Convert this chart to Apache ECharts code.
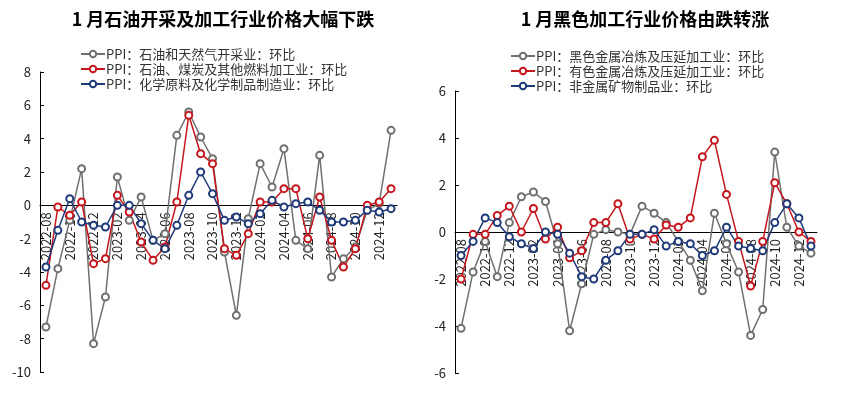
<!DOCTYPE html>
<html>
<head>
<meta charset="utf-8">
<script src="https://cdn.jsdelivr.net/npm/echarts@6/dist/echarts.min.js"></script>
<style>
  html, body { margin: 0; padding: 0; background: #fff; }
  #main { width: 862px; height: 397px; }
</style>
</head>
<body>
<div id="main"></div>
<script>
// 月份
var months = ['2022-08','2022-09','2022-10','2022-11','2022-12','2023-01','2023-02','2023-03','2023-04','2023-05',
  '2023-06','2023-07','2023-08','2023-09','2023-10','2023-11','2023-12','2024-01','2024-02','2024-03',
  '2024-04','2024-05','2024-06','2024-07','2024-08','2024-09','2024-10','2024-11','2024-12','2025-01'];

// 左图：石油开采及加工
var oilGas = [-7.3,-3.8,-0.9,2.2,-8.3,-5.5,1.7,-0.9,0.5,-2.1,-1.7,4.2,5.6,4.1,2.8,-2.8,-6.6,-0.8,2.5,1.1,3.4,-2.1,-2.6,3.0,-4.3,-3.2,-2.5,-0.3,0.1,4.5];
var oilCoal = [-4.8,-0.1,-0.6,0.2,-3.5,-3.2,0.6,-0.4,-2.2,-3.3,-2.5,0.2,5.4,3.1,2.5,-2.6,-3.0,-1.7,0.2,0.2,1.0,1.0,-2.0,0.5,-2.1,-3.7,-2.6,0.0,0.2,1.0];
var chemical = [-3.7,-1.5,0.4,-1.0,-1.2,-1.3,0.0,0.0,-1.1,-2.1,-2.6,-1.2,0.6,2.0,0.7,-0.9,-0.7,-1.1,-0.5,0.3,-0.1,0.1,0.2,-0.3,-1.0,-1.0,-0.9,-0.3,-0.4,-0.2];

// 右图：黑色加工
var ferrous = [-4.1,-1.7,-0.4,-1.9,0.4,1.5,1.7,1.3,-0.5,-4.2,-2.2,-0.1,0.1,0.0,-0.1,1.1,0.8,0.4,-0.4,-1.2,-2.5,0.8,-0.5,-1.7,-4.4,-3.3,3.4,0.2,-0.6,-0.9];
var nonferrous = [-2.0,-0.1,-0.1,0.7,1.1,0.0,1.0,-0.3,0.2,-1.1,-0.8,0.4,0.4,1.2,-0.3,-0.1,-0.3,0.3,0.2,0.6,3.2,3.9,1.6,-0.4,-2.3,-0.4,2.1,1.2,0.0,-0.4];
var nonMetal = [-1.0,-0.4,0.6,0.4,-0.2,-0.5,-0.7,0.0,-0.1,-0.9,-1.9,-2.0,-1.2,-0.8,-0.1,-0.1,0.1,-0.6,-0.4,-0.5,-1.0,-0.8,0.2,-0.6,-0.7,-0.8,0.4,1.2,0.6,-0.6];

var leftNames = ['PPI：石油和天然气开采业：环比', 'PPI：石油、煤炭及其他燃料加工业：环比', 'PPI：化学原料及化学制品制造业：环比'];
var rightNames = ['PPI：黑色金属冶炼及压延加工业：环比', 'PPI：有色金属冶炼及压延加工业：环比', 'PPI：非金属矿物制品业：环比'];

var GREY = '#707070', RED = '#c4161c', BLUE = '#1f3a78';
var FONT = '"Noto Sans CJK SC", "Noto Sans", sans-serif';

var grids = [
  { left: 40, top: 72, width: 357, height: 300 },
  { left: 455, top: 91, width: 362, height: 282 }
];
var yRange = [[-10, 8], [-6, 6]];

// x轴放在 0 刻度处（标签随轴线一起）
function xAxisOf(idx) {
  var r = yRange[idx];
  var up = grids[idx].height * (0 - r[0]) / (r[1] - r[0]);
  return {
    type: 'category', gridIndex: idx, data: months, boundaryGap: true,
    position: 'bottom', offset: -up,
    axisLine: { onZero: false, lineStyle: { color: '#000', width: 1 } },
    axisTick: { inside: true, interval: 1, length: 4, lineStyle: { color: '#000' } },
    axisLabel: { interval: 1, rotate: 90, margin: 7, fontSize: 13, color: '#222', fontFamily: FONT },
    splitLine: { show: false }
  };
}
function yAxisOf(idx) {
  return {
    type: 'value', gridIndex: idx, min: yRange[idx][0], max: yRange[idx][1], interval: 2,
    axisLine: { show: true, lineStyle: { color: '#000', width: 1 } },
    axisTick: { show: true, inside: true, length: 4, lineStyle: { color: '#000' } },
    axisLabel: { fontSize: 13, color: '#222', margin: 9, fontFamily: FONT },
    splitLine: { show: false }
  };
}
function lineOf(name, data, color, idx) {
  return {
    name: name, type: 'line', data: data,
    xAxisIndex: idx, yAxisIndex: idx,
    symbol: 'emptyCircle', symbolSize: 7,
    itemStyle: { color: color, borderWidth: 1.3 },
    lineStyle: { color: color, width: 1.5 },
    animation: false
  };
}

var chart = echarts.init(document.getElementById('main'));
chart.setOption({
  backgroundColor: '#fff',
  textStyle: { fontFamily: FONT },
  title: [
    { text: '1 月石油开采及加工行业价格大幅下跌', left: 218, top: 5, textAlign: 'center',
      textStyle: { fontSize: 18, fontWeight: 'bold', color: '#000', fontFamily: FONT } },
    { text: '1 月黑色加工行业价格由跌转涨', left: 640, top: 5, textAlign: 'center',
      textStyle: { fontSize: 18, fontWeight: 'bold', color: '#000', fontFamily: FONT } }
  ],
  legend: [
    { data: leftNames, orient: 'vertical', left: 75, top: 42, itemGap: 1, itemWidth: 24, itemHeight: 8,
      textStyle: { fontSize: 13, lineHeight: 14, color: '#333', padding: [0, 0, 0, -4] } },
    { data: rightNames, orient: 'vertical', left: 505, top: 44, itemGap: 1, itemWidth: 24, itemHeight: 8,
      textStyle: { fontSize: 13, lineHeight: 14, color: '#333', padding: [0, 0, 0, -4] } }
  ],
  grid: grids,
  xAxis: [xAxisOf(0), xAxisOf(1)],
  yAxis: [yAxisOf(0), yAxisOf(1)],
  series: [
    lineOf(leftNames[0], oilGas, GREY, 0),
    lineOf(leftNames[1], oilCoal, RED, 0),
    lineOf(leftNames[2], chemical, BLUE, 0),
    lineOf(rightNames[0], ferrous, GREY, 1),
    lineOf(rightNames[1], nonferrous, RED, 1),
    lineOf(rightNames[2], nonMetal, BLUE, 1)
  ]
});
</script>
</body>
</html>
